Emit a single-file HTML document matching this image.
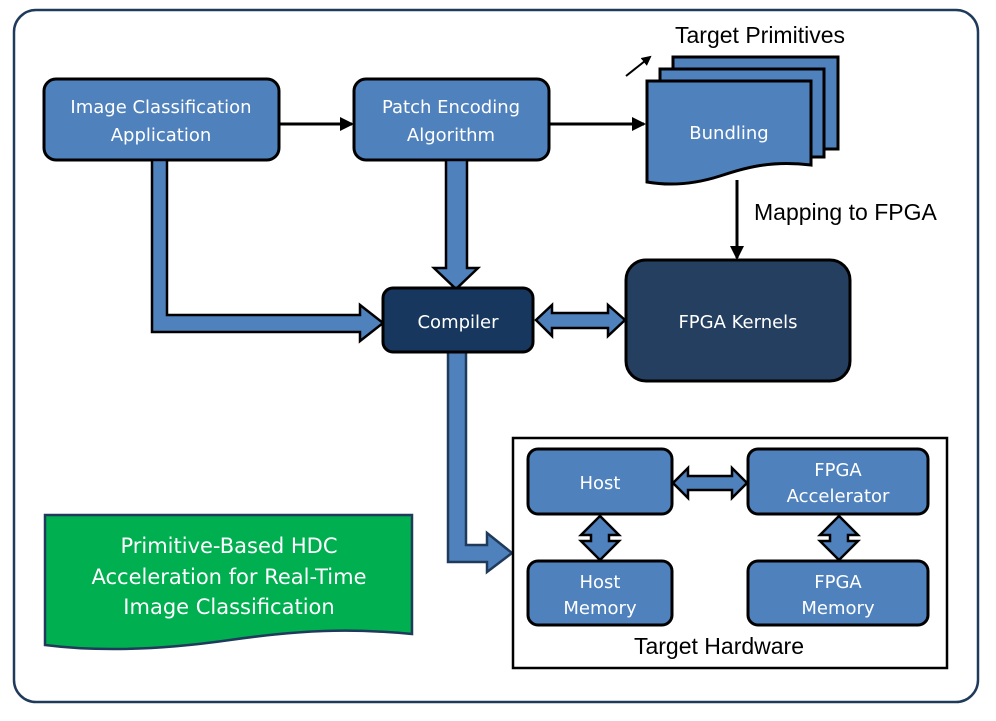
<!DOCTYPE html>
<html><head><meta charset="utf-8"><style>
html,body{margin:0;padding:0;background:#fff}
svg{display:block}
text{font-family:"DejaVu Sans","Liberation Sans",sans-serif}
.w{fill:#fff;font-size:18px;text-anchor:middle}
.k{fill:#000;font-family:"Liberation Sans",sans-serif;font-size:23px}
</style></head><body>
<svg width="996" height="721" viewBox="0 0 996 721" xmlns="http://www.w3.org/2000/svg">
<defs><marker id="ah" markerWidth="10" markerHeight="10" refX="8" refY="5" orient="auto" markerUnits="userSpaceOnUse"><path d="M0,0 L10,5 L0,10 z" fill="#000"/></marker>
<marker id="ah2" markerWidth="14" markerHeight="14" refX="12" refY="7" orient="auto" markerUnits="userSpaceOnUse"><path d="M0,0 L14,7 L0,14 z" fill="#000"/></marker></defs>
<rect x="14" y="10" width="964" height="692" rx="22" fill="#fff" stroke="#1f3a5a" stroke-width="2.5"/>

<rect x="44" y="79" width="235" height="81" rx="12" fill="#4f81bd" stroke="#000" stroke-width="3"/>
<text class="w" x="161" y="113">Image Classification</text>
<text class="w" x="161" y="141">Application</text>
<rect x="354" y="79" width="195" height="81" rx="12" fill="#4f81bd" stroke="#000" stroke-width="3"/>
<text class="w" x="451" y="113">Patch Encoding</text>
<text class="w" x="451" y="141">Algorithm</text>
<line x1="279" y1="124" x2="352" y2="124" stroke="#000" stroke-width="3" marker-end="url(#ah2)"/>
<line x1="549" y1="124" x2="644" y2="124" stroke="#000" stroke-width="3" marker-end="url(#ah2)"/>

<rect x="673" y="57" width="165" height="92" fill="#4f81bd" stroke="#000" stroke-width="3"/>
<rect x="660" y="69" width="164" height="88" fill="#4f81bd" stroke="#000" stroke-width="3"/>
<path d="M647,81 L811,81 L811,165 C770,160 745,168 720,176 C695,184 670,186 647,182 Z" fill="#4f81bd" stroke="#000" stroke-width="3"/>
<text class="w" x="729" y="139">Bundling</text>
<line x1="626" y1="76" x2="650" y2="57" stroke="#000" stroke-width="2" marker-end="url(#ah)"/>
<text class="k" x="675" y="43">Target Primitives</text>
<line x1="737" y1="180" x2="737" y2="258" stroke="#000" stroke-width="3" marker-end="url(#ah2)"/>
<text class="k" x="754" y="220">Mapping to FPGA</text>

<rect x="626" y="260" width="224" height="121" rx="20" fill="#243f60" stroke="#000" stroke-width="3"/>
<text class="w" x="738" y="328">FPGA Kernels</text>

<path d="M152,160 L167,160 L167,315 L360,315 L360,305 L383,323 L360,341 L360,332 L152,332 Z" fill="#4f81bd" stroke="#000" stroke-width="2.5"/>
<path d="M446,160 L467,160 L467,268 L478,268 L456,289 L434,268 L446,268 Z" fill="#4f81bd" stroke="#000" stroke-width="2.5"/>
<path d="M448,352 L466,352 L466,545 L487,545 L487,533 L512,553 L487,572 L487,562 L448,562 Z" fill="#4f81bd" stroke="#1f3a5a" stroke-width="2.5"/>
<path d="M536,320 L552,305 L552,313 L608,313 L608,305 L625,320 L608,336 L608,328 L552,328 L552,336 Z" fill="#4f81bd" stroke="#000" stroke-width="2.5"/>

<rect x="383" y="288" width="150" height="64" rx="10" fill="#17375e" stroke="#000" stroke-width="3"/>
<text class="w" x="458" y="328">Compiler</text>

<rect x="513" y="438" width="434" height="230" fill="#fff" stroke="#000" stroke-width="2.5"/>
<rect x="528" y="449" width="144" height="65" rx="10" fill="#4f81bd" stroke="#000" stroke-width="3"/>
<text class="w" x="600" y="489">Host</text>
<rect x="748" y="449" width="180" height="65" rx="10" fill="#4f81bd" stroke="#000" stroke-width="3"/>
<text class="w" x="838" y="476">FPGA</text>
<text class="w" x="838" y="502">Accelerator</text>
<rect x="528" y="561" width="144" height="64" rx="10" fill="#4f81bd" stroke="#000" stroke-width="3"/>
<text class="w" x="600" y="588">Host</text>
<text class="w" x="600" y="614">Memory</text>
<rect x="748" y="561" width="180" height="64" rx="10" fill="#4f81bd" stroke="#000" stroke-width="3"/>
<text class="w" x="838" y="588">FPGA</text>
<text class="w" x="838" y="614">Memory</text>
<path d="M673,483 L688,468 L688,476 L732,476 L732,468 L747,483 L732,498 L732,490 L688,490 L688,498 Z" fill="#4f81bd" stroke="#000" stroke-width="2.5"/>
<path d="M600,516 L619,535 L609,535 L609,541 L619,541 L600,560 L581,541 L591,541 L591,535 L581,535 Z" fill="#4f81bd" stroke="#000" stroke-width="2.5"/>
<path d="M839,516 L858,535 L848,535 L848,541 L858,541 L839,560 L820,541 L830,541 L830,535 L820,535 Z" fill="#4f81bd" stroke="#000" stroke-width="2.5"/>
<text class="k" x="719" y="654" text-anchor="middle">Target Hardware</text>

<path d="M45,515 L412,515 L412,634 C350,628 300,630 230,640 C160,650 100,652 45,645 Z" fill="#00b050" stroke="#1f3a5a" stroke-width="2.5"/>
<text class="w" style="font-size:21px" x="229" y="553">Primitive-Based HDC</text>
<text class="w" style="font-size:21px" x="229" y="584">Acceleration for Real-Time</text>
<text class="w" style="font-size:21px" x="229" y="614">Image Classification</text>
</svg>
</body></html>
